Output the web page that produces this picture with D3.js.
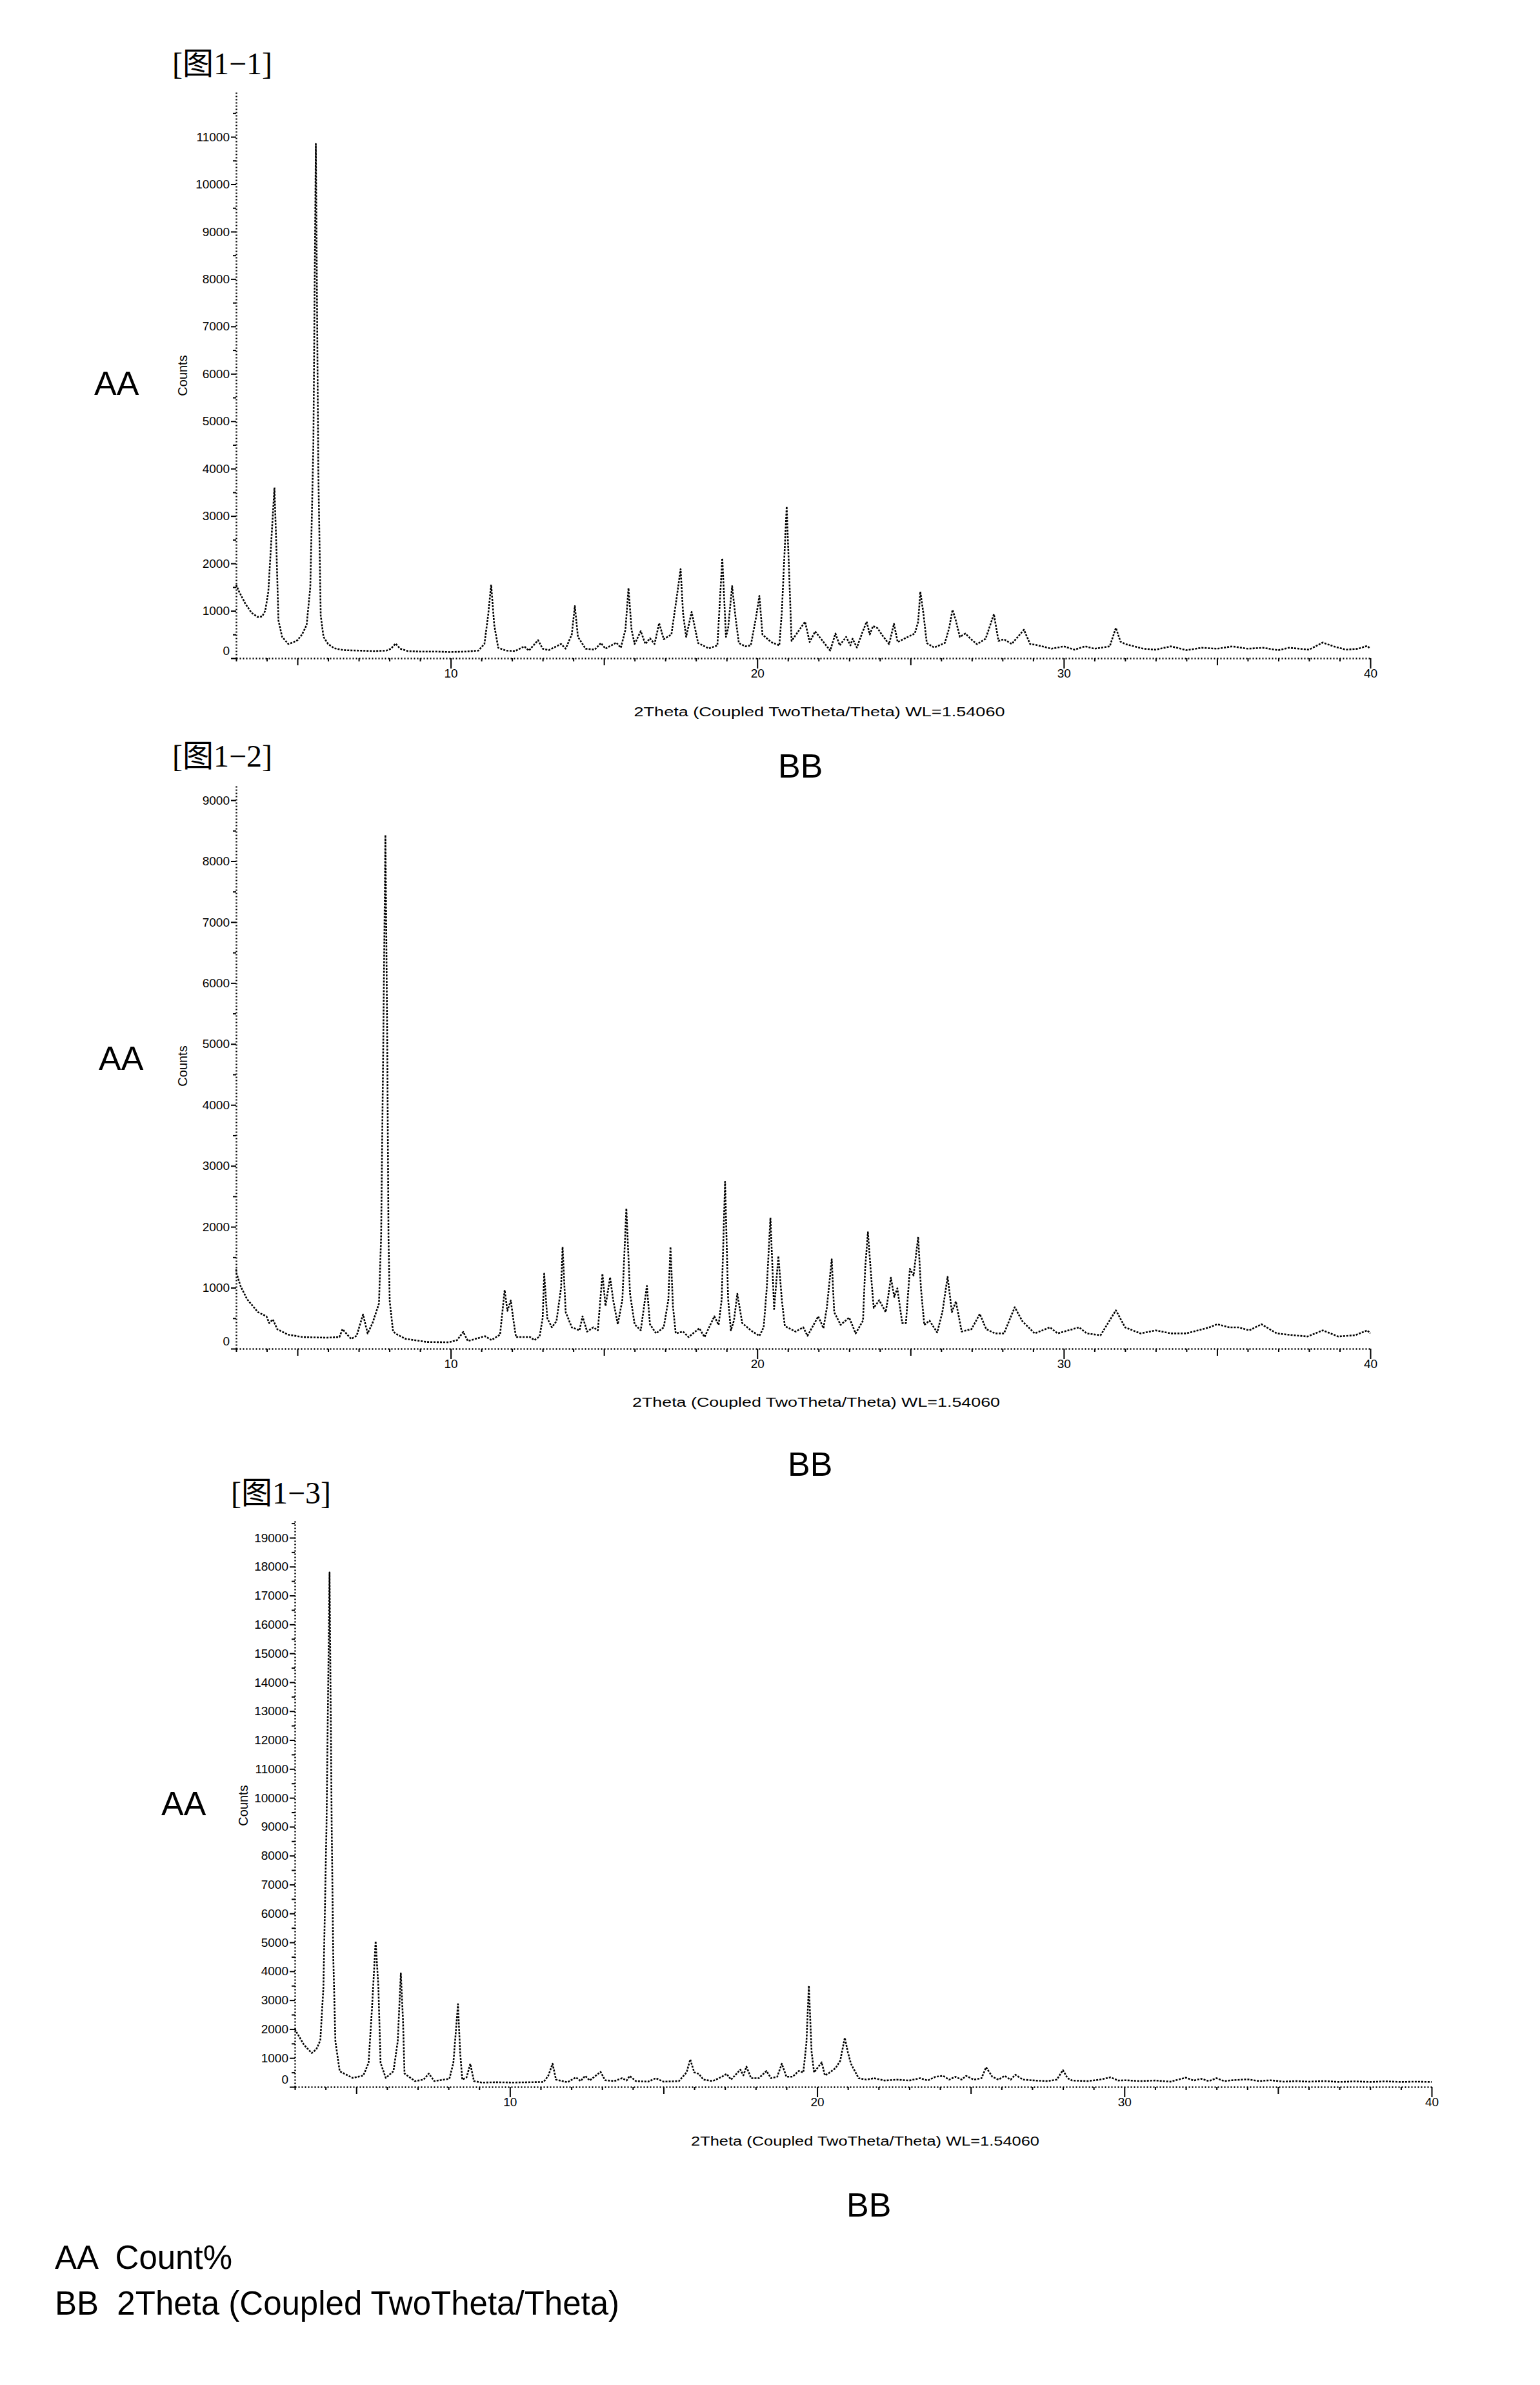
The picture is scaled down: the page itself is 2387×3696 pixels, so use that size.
<!DOCTYPE html>
<html>
<head>
<meta charset="utf-8">
<script src="https://cdnjs.cloudflare.com/ajax/libs/d3/7.8.5/d3.min.js"></script>
<style>
  body { margin: 0; background: #fff; }
  text { font-family: "Liberation Sans", Arial, sans-serif; fill: #000; }
</style>
</head>
<body>
<script>
// ---- data: [2theta, counts] ----
var pattern1 = [[3.0,1550],[3.1,1400],[3.3,1150],[3.5,960],[3.7,870],[3.85,880],[3.95,1000],[4.05,1400],[4.15,2500],[4.25,3600],[4.32,2200],[4.38,800],[4.5,450],[4.7,300],[4.85,330],[5.0,380],[5.15,500],[5.3,700],[5.42,1500],[5.52,4500],[5.6,10850],[5.68,4000],[5.76,900],[5.85,450],[6.0,300],[6.2,210],[6.5,170],[7.0,160],[7.5,150],[7.9,160],[8.05,200],[8.2,310],[8.35,200],[8.6,150],[9.0,140],[9.5,140],[10.0,130],[10.5,140],[10.9,160],[11.1,300],[11.22,900],[11.32,1550],[11.42,700],[11.55,220],[11.8,160],[12.1,150],[12.4,250],[12.55,160],[12.85,380],[13.0,200],[13.2,170],[13.6,300],[13.75,200],[13.95,500],[14.05,1100],[14.15,450],[14.4,200],[14.7,180],[14.9,320],[15.05,200],[15.4,330],[15.55,220],[15.7,600],[15.8,1480],[15.9,600],[16.0,300],[16.2,570],[16.35,300],[16.5,420],[16.65,300],[16.8,740],[16.95,400],[17.2,500],[17.37,1270],[17.5,1880],[17.58,950],[17.68,450],[17.86,975],[18.07,320],[18.42,205],[18.7,270],[18.86,2110],[18.98,450],[19.05,635],[19.18,1520],[19.3,815],[19.4,320],[19.61,250],[19.79,270],[19.96,860],[20.07,1315],[20.17,500],[20.45,340],[20.72,270],[20.8,950],[20.96,3200],[21.05,1630],[21.12,365],[21.29,520],[21.56,770],[21.71,340],[21.89,565],[22.38,160],[22.55,520],[22.69,270],[22.9,450],[23.04,270],[23.11,410],[23.25,225],[23.43,545],[23.57,770],[23.67,500],[23.78,680],[23.92,635],[24.09,475],[24.3,295],[24.46,725],[24.58,340],[24.79,410],[25.14,520],[25.25,770],[25.32,1405],[25.42,950],[25.53,320],[25.77,225],[26.12,320],[26.26,635],[26.37,1020],[26.47,815],[26.61,450],[26.79,520],[26.96,410],[27.17,295],[27.45,410],[27.72,930],[27.87,365],[28.05,400],[28.3,300],[28.7,600],[28.9,300],[29.1,280],[29.6,200],[30.0,250],[30.35,180],[30.7,250],[31.0,200],[31.5,250],[31.7,640],[31.85,350],[32.0,300],[32.6,200],[33.0,180],[33.5,250],[34.0,170],[34.5,220],[35.0,200],[35.5,250],[36.0,200],[36.5,220],[37.0,170],[37.35,220],[38.0,180],[38.45,330],[38.8,250],[39.2,180],[39.6,200],[39.9,260],[40.0,200]];

var pattern2 = [[3.0,1300],[3.01,1240],[3.15,1020],[3.36,810],[3.71,600],[3.99,530],[4.08,420],[4.2,480],[4.34,320],[4.69,230],[5.18,190],[5.95,180],[6.37,190],[6.47,320],[6.75,160],[6.93,210],[7.14,560],[7.29,250],[7.45,420],[7.66,740],[7.73,1840],[7.8,5000],[7.87,8430],[7.93,5000],[7.97,1840],[8.01,780],[8.12,280],[8.26,230],[8.53,160],[9.23,110],[9.93,105],[10.21,140],[10.41,275],[10.56,125],[11.12,205],[11.33,140],[11.61,230],[11.76,960],[11.85,620],[11.96,790],[12.06,420],[12.13,190],[12.59,190],[12.73,140],[12.9,200],[13.0,500],[13.05,1230],[13.15,500],[13.3,350],[13.45,450],[13.6,1000],[13.65,1670],[13.75,600],[13.95,350],[14.2,300],[14.3,530],[14.45,280],[14.65,350],[14.8,300],[14.95,1230],[15.05,700],[15.2,1170],[15.3,800],[15.45,400],[15.6,800],[15.73,2300],[15.85,900],[16.0,400],[16.2,300],[16.4,1030],[16.5,400],[16.7,250],[16.95,350],[17.1,800],[17.17,1670],[17.25,700],[17.34,250],[17.58,280],[17.76,190],[18.11,335],[18.28,190],[18.6,530],[18.74,390],[18.84,810],[18.95,2740],[19.05,810],[19.14,300],[19.24,460],[19.35,900],[19.51,420],[19.79,300],[20.07,210],[20.21,350],[20.31,990],[20.43,2150],[20.55,650],[20.69,1520],[20.8,810],[20.9,370],[21.25,280],[21.5,350],[21.64,210],[21.99,530],[22.16,335],[22.27,670],[22.43,1465],[22.51,600],[22.72,390],[23.0,510],[23.21,250],[23.45,460],[23.52,1310],[23.61,1910],[23.73,1095],[23.8,670],[23.98,795],[24.19,600],[24.26,815],[24.36,1165],[24.47,850],[24.57,990],[24.73,420],[24.85,420],[24.98,1310],[25.1,1200],[25.25,1835],[25.34,990],[25.45,390],[25.62,460],[25.87,265],[26.04,600],[26.21,1180],[26.35,600],[26.48,775],[26.67,280],[26.99,320],[27.26,570],[27.47,320],[27.76,250],[28.05,250],[28.4,680],[28.65,450],[29.05,250],[29.55,350],[29.8,250],[30.5,350],[30.75,250],[31.2,220],[31.7,630],[32.0,350],[32.5,250],[33.0,300],[33.5,250],[34.0,250],[34.75,350],[35.0,400],[35.4,350],[35.7,350],[36.05,300],[36.45,400],[36.95,250],[37.5,220],[37.95,200],[38.45,300],[38.95,200],[39.5,220],[39.9,300],[40.0,250]];

var pattern3 = [[3.0,2000],[3.04,1920],[3.3,1450],[3.55,1170],[3.7,1300],[3.83,1610],[3.93,3440],[4.03,9000],[4.13,17800],[4.2,9000],[4.25,4550],[4.32,1580],[4.46,540],[4.88,310],[5.23,390],[5.4,830],[5.51,2690],[5.63,5040],[5.72,3440],[5.79,830],[5.96,310],[6.21,540],[6.35,1580],[6.45,3930],[6.52,2320],[6.57,460],[6.91,200],[7.19,250],[7.36,460],[7.54,200],[8.03,280],[8.16,830],[8.31,2860],[8.38,1200],[8.45,250],[8.59,330],[8.71,800],[8.83,200],[9.08,150],[9.6,160],[10.1,150],[10.6,160],[11.1,170],[11.25,390],[11.39,800],[11.5,250],[11.88,160],[12.15,330],[12.3,200],[12.45,380],[12.6,220],[12.95,520],[13.1,230],[13.4,200],[13.65,300],[13.8,220],[13.9,380],[14.1,200],[14.5,180],[14.75,300],[15.0,180],[15.5,200],[15.75,500],[15.87,950],[16.0,500],[16.15,450],[16.3,250],[16.6,200],[16.9,350],[17.05,450],[17.2,250],[17.5,600],[17.6,400],[17.7,700],[17.85,300],[18.1,300],[18.35,550],[18.5,300],[18.7,350],[18.85,800],[19.0,350],[19.2,350],[19.4,550],[19.55,500],[19.65,1500],[19.73,3500],[19.82,1200],[19.9,500],[20.15,850],[20.25,400],[20.35,450],[20.6,650],[20.75,900],[20.9,1700],[21.0,1200],[21.1,800],[21.35,300],[21.6,250],[21.85,300],[22.2,220],[22.6,250],[23.0,220],[23.35,300],[23.6,220],[23.85,350],[24.1,380],[24.3,250],[24.5,350],[24.7,250],[24.85,380],[25.1,250],[25.35,300],[25.5,680],[25.7,350],[25.9,250],[26.1,380],[26.3,250],[26.45,420],[26.7,250],[27.1,220],[27.5,200],[27.8,250],[28.0,580],[28.15,300],[28.3,220],[28.8,200],[29.2,250],[29.55,330],[29.8,220],[30.05,230],[30.5,200],[31.0,220],[31.5,180],[32.0,320],[32.25,220],[32.5,280],[32.75,200],[33.0,300],[33.25,200],[33.5,230],[34.0,260],[34.4,200],[34.75,230],[35.2,180],[35.6,200],[36.0,180],[36.5,200],[37.0,170],[37.5,190],[38.0,170],[38.5,190],[39.0,170],[39.5,180],[40.0,170]];

// tick values / labels
var xTicks = [3,4,5,6,7,8,9,10,11,12,13,14,15,16,17,18,19,20,21,22,23,24,25,26,27,28,29,30,31,32,33,34,35,36,37,38,39,40];
var yTicks1 = [0,500,1000,1500,2000,2500,3000,3500,4000,4500,5000,5500,6000,6500,7000,7500,8000,8500,9000,9500,10000,10500,11000,11500];
var yTicks2 = [0,500,1000,1500,2000,2500,3000,3500,4000,4500,5000,5500,6000,6500,7000,7500,8000,8500,9000];
var yTicks3 = [0,500,1000,1500,2000,2500,3000,3500,4000,4500,5000,5500,6000,6500,7000,7500,8000,8500,9000,9500,10000,10500,11000,11500,12000,12500,13000,13500,14000,14500,15000,15500,16000,16500,17000,17500,18000,18500,19000,19500];
var yAxisTop = [11940, 9265, 19580];   // counts at the top end of each y axis
var xDomain = [3, 40];

var panelTitles = ["[图1\u22121]", "[图1\u22122]", "[图1\u22123]"];
var xTitle = "2Theta (Coupled TwoTheta/Theta) WL=1.54060";
var yTitle = "Counts";
var legendLines = ["AA  Count%", "BB  2Theta (Coupled TwoTheta/Theta)"];

var svg = d3.select("body").append("svg")
    .attr("width", 2387)
    .attr("height", 3696)
    .style("background", "#fff");

// layout for each panel (pixel positions only)
var panels = [
  {data: pattern1, yTicks: yTicks1, top: yAxisTop[0], title: panelTitles[0],
   x0: 366, x1: 2124, y0: 1020, y1: 143,
   titleX: 267, titleY: 115, aaX: 146, aaY: 612, bbX: 1206, bbY: 1205,
   countsX: 283, countsY: 582, xtX: 1270, xtY: 1110, xtW: 575},
  {data: pattern2, yTicks: yTicks2, top: yAxisTop[1], title: panelTitles[1],
   x0: 366, x1: 2124, y0: 2090, y1: 1215,
   titleX: 267, titleY: 1188, aaX: 153, aaY: 1658, bbX: 1221, bbY: 2287,
   countsX: 283, countsY: 1652, xtX: 1265, xtY: 2180, xtW: 570},
  {data: pattern3, yTicks: yTicks3, top: yAxisTop[2], title: panelTitles[2],
   x0: 457, x1: 2219, y0: 3234, y1: 2357,
   titleX: 358, titleY: 2330, aaX: 250, aaY: 2813, bbX: 1312, bbY: 3435,
   countsX: 377, countsY: 2798, xtX: 1341, xtY: 3325, xtW: 540}
];

panels.forEach(function(p) {

  var xScale = d3.scaleLinear().domain(xDomain).range([p.x0, p.x1]);
  var yScale = d3.scaleLinear().domain([0, p.top]).range([p.y0, p.y1]);

  // title
  svg.append("text")
    .attr("x", p.titleX).attr("y", p.titleY)
    .style("font-family", "'Liberation Serif', 'Noto Sans CJK SC', serif")
    .style("font-size", "48px")
    .text(p.title);

  // x axis
  var bottomAxis = d3.axisBottom(xScale)
      .tickValues(xTicks)
      .tickSize(16)
      .tickSizeOuter(0)
      .tickPadding(1)
      .tickFormat(function(d) { return d % 10 === 0 ? d : ""; });

  var gx = svg.append("g")
      .attr("transform", "translate(0," + p.y0 + ")")
      .call(bottomAxis);
  gx.select(".domain").attr("stroke", "#000").attr("stroke-width", 2.5).attr("stroke-dasharray", "2,3");
  gx.selectAll(".tick line")
    .attr("stroke", "#000").attr("stroke-width", 2)
    .attr("y2", function(d) { return d % 10 === 0 ? 16 : (d % 5 === 0 ? 11 : 5); });
  gx.selectAll(".tick text").style("font-size", "19px").attr("fill", "#111");

  // y axis
  var leftAxis = d3.axisLeft(yScale)
      .tickValues(p.yTicks)
      .tickSize(8)
      .tickSizeOuter(0)
      .tickPadding(2)
      .tickFormat(function(d) { return d % 1000 === 0 ? d : ""; });

  var gy = svg.append("g")
      .attr("transform", "translate(" + p.x0 + ",0)")
      .call(leftAxis);
  gy.select(".domain").attr("stroke", "#000").attr("stroke-width", 2.5).attr("stroke-dasharray", "2,3");
  gy.selectAll(".tick line")
    .attr("stroke", "#000").attr("stroke-width", 2)
    .attr("x2", function(d) { return d % 1000 === 0 ? -8 : -5; });
  gy.selectAll(".tick text")
    .style("font-size", "19px").attr("fill", "#111")
    .attr("dy", function(d) { return d === 0 ? "-0.3em" : "0.32em"; });

  // axis titles
  svg.append("text")
    .attr("transform", "translate(" + p.countsX + "," + p.countsY + ") rotate(-90)")
    .attr("text-anchor", "middle")
    .attr("dy", "0.35em")
    .style("font-size", "20px")
    .text(yTitle);

  svg.append("text")
    .attr("x", p.xtX).attr("y", p.xtY)
    .attr("text-anchor", "middle")
    .attr("textLength", p.xtW)
    .attr("lengthAdjust", "spacingAndGlyphs")
    .style("font-size", "20px")
    .text(xTitle);

  // AA / BB markers
  svg.append("text").attr("x", p.aaX).attr("y", p.aaY).style("font-size", "52px").text("AA");
  svg.append("text").attr("x", p.bbX).attr("y", p.bbY).style("font-size", "52px").text("BB");

  // pattern
  var line = d3.line()
      .x(function(d) { return xScale(d[0]); })
      .y(function(d) { return yScale(d[1]); });

  svg.append("path")
    .datum(p.data)
    .attr("d", line)
    .attr("fill", "none")
    .attr("stroke", "#000")
    .attr("stroke-width", 2.6)
    .attr("stroke-dasharray", "3,2")
    .attr("stroke-linejoin", "round");
});

// legend at the bottom
svg.selectAll(".legend")
  .data(legendLines)
  .enter()
  .append("text")
    .attr("class", "legend")
    .attr("x", 85)
    .attr("y", function(d, i) { return 3516 + i * 71; })
    .attr("xml:space", "preserve")
    .style("white-space", "pre")
    .style("font-size", "51px")
    .text(function(d) { return d; });
</script>
</body>
</html>
